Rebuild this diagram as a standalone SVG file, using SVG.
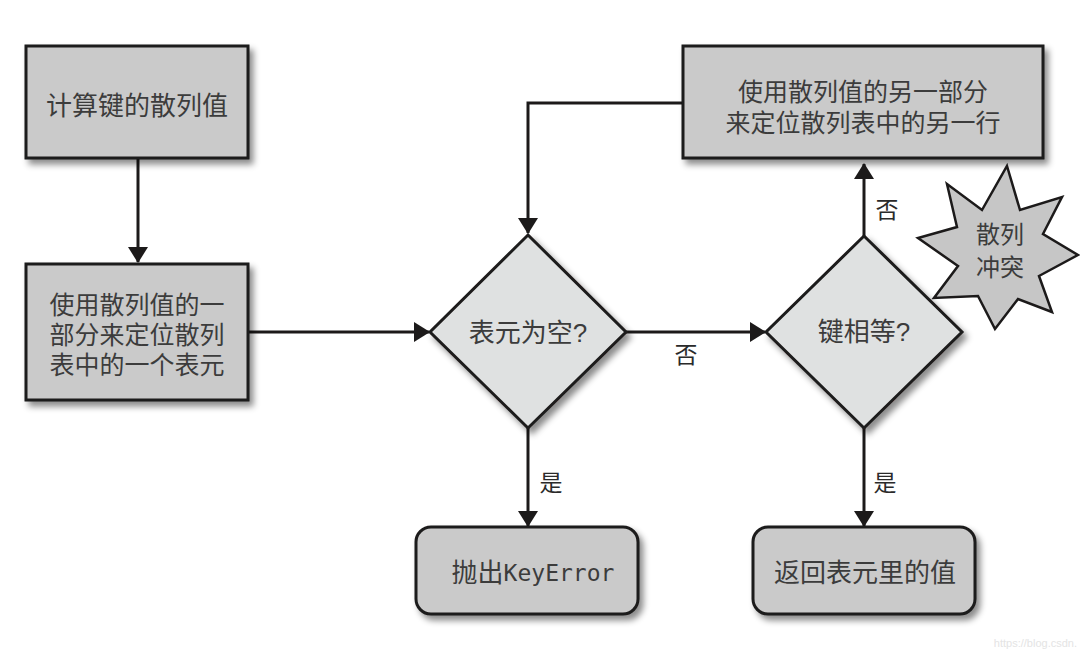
<svg xmlns="http://www.w3.org/2000/svg" width="1080" height="658" viewBox="0 0 1080 658">
<defs>
<style>
.box{fill:#cacaca;stroke:#1c1a1a;stroke-width:3;filter:url(#sh)}
.dia{fill:#dfe1e1;stroke:#1c1a1a;stroke-width:3;filter:url(#sh)}
.star{fill:#c6c6c6;stroke:#1c1a1a;stroke-width:2.5;stroke-linejoin:miter}
.t{font-family:"Liberation Sans","Noto Sans CJK SC",sans-serif;font-size:26px;fill:#3c3c3c;text-anchor:middle;dominant-baseline:central}
.t2{font-size:25px}
.lbl{font-family:"Liberation Sans","Noto Sans CJK SC",sans-serif;font-size:23px;fill:#2a2a2a;text-anchor:middle;dominant-baseline:central}
.mono{font-family:"DejaVu Sans Mono","Liberation Mono",monospace;font-size:23px}
.c{fill:none;stroke:#1c1a1a;stroke-width:3;marker-end:url(#ah)}
</style>
<filter id="sh" x="-10%" y="-10%" width="130%" height="130%">
<feDropShadow dx="4" dy="5" stdDeviation="3" flood-color="#000" flood-opacity="0.45"/>
</filter>
<marker id="ah" viewBox="0 0 16 20" refX="15" refY="10" markerWidth="16" markerHeight="20" markerUnits="userSpaceOnUse" orient="auto">
<path d="M0,0 L16,10 L0,20 Z" fill="#1c1a1a"/>
</marker>
</defs>
<rect width="1080" height="658" fill="#ffffff"/>

<g id="connectors">
<path class="c" d="M138 159 V262"/>
<path class="c" d="M248 332 H429"/>
<path class="c" d="M626 332 H765"/>
<path class="c" d="M864 236 V164"/>
<path class="c" d="M683 103 H528 V233"/>
<path class="c" d="M528 428 V526"/>
<path class="c" d="M864 428 V526"/>
<text class="lbl" x="686" y="355">否</text>
<text class="lbl" x="887" y="210">否</text>
<text class="lbl" x="551" y="483">是</text>
<text class="lbl" x="885" y="483">是</text>
</g>

<g id="n-hash">
<rect class="box" x="26" y="46" width="222" height="112"/>
<text class="t" x="137" y="106">计算键的散列值</text>
</g>

<g id="n-locate">
<rect class="box" x="26" y="264" width="222" height="136"/>
<text class="t t2"><tspan x="137" y="305">使用散列值的一</tspan><tspan x="137" y="335">部分来定位散列</tspan><tspan x="137" y="365">表中的一个表元</tspan></text>
</g>

<g id="n-empty">
<polygon class="dia" points="528,235 626,332 528,428 430,332"/>
<text class="t" x="528" y="333">表元为空?</text>
</g>

<g id="n-equal">
<polygon class="dia" points="864,236 962,332 864,428 766,332"/>
<text class="t" x="864" y="332">键相等?</text>
</g>

<g id="n-other">
<rect class="box" x="683" y="46" width="360" height="112"/>
<text class="t t2"><tspan x="863" y="92">使用散列值的另一部分</tspan><tspan x="863" y="123">来定位散列表中的另一行</tspan></text>
</g>

<g id="n-collision">
<polygon class="star" points="1007,166 1020,210 1062,197 1043,234 1078,255 1039,276 1052,312 1018,299 995,329 978,296 934,298 958,266 918,238 957,227 947,184 982,210"/>
<text class="t" style="font-size:24px"><tspan x="1000" y="234">散列</tspan><tspan x="1000" y="267">冲突</tspan></text>
</g>

<g id="n-keyerror">
<rect class="box" x="416" y="527" width="222" height="87" rx="15" ry="15"/>
<text class="t" x="533" y="573">抛出<tspan class="mono">KeyError</tspan></text>
</g>

<g id="n-return">
<rect class="box" x="753" y="527" width="222" height="87" rx="15" ry="15"/>
<text class="t" x="865" y="573">返回表元里的值</text>
</g>

<text x="1077" y="647" text-anchor="end" style="font-family:'Liberation Sans',sans-serif;font-size:11px;fill:#e4e4e4">https://blog.csdn.</text>
</svg>
